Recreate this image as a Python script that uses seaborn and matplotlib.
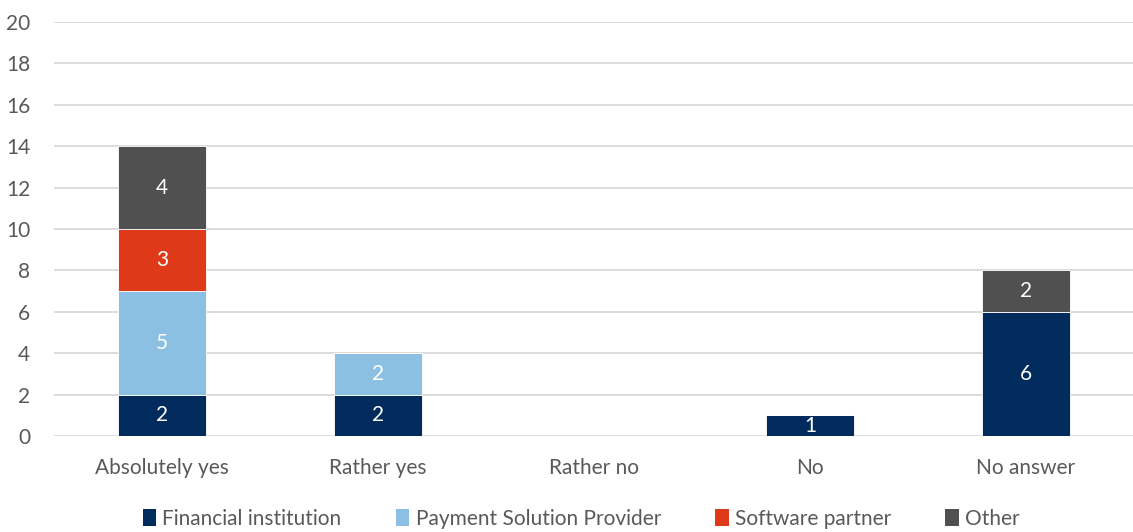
import numpy as np
import pandas as pd
import matplotlib
matplotlib.use("Agg")
import matplotlib.pyplot as plt
import seaborn as sns
from matplotlib.patches import Patch

categories = ["Absolutely yes", "Rather yes", "Rather no", "No", "No answer"]
series_names = ["Financial institution", "Payment Solution Provider", "Software partner", "Other"]
financial = [2, 2, 0, 1, 6]
payment = [5, 2, 0, 0, 0]
software = [3, 0, 0, 0, 0]
other = [4, 0, 0, 0, 2]
colors = ["#002B5C", "#8BC0E3", "#DE3A1A", "#505050"]
y_ticks = [0, 2, 4, 6, 8, 10, 12, 14, 16, 18, 20]

sns.set_theme(style="white")
plt.rcParams['font.family'] = ['Lato', 'DejaVu Sans']

fig = plt.figure(figsize=(11.33, 5.32), dpi=100)
ax = fig.add_axes([54 / 1133, 1 - 436 / 532, 1080 / 1133, 414 / 532])

series_vals = [financial, payment, software, other]
bottom = np.zeros(len(categories))
for name, vals, col in zip(series_names, series_vals, colors):
    df = pd.DataFrame({"cat": categories, "val": vals})
    sns.barplot(data=df, x="cat", y="val", color=col, bottom=bottom, width=0.41,
                ax=ax, errorbar=None, saturation=1, order=categories, zorder=3,
                linewidth=0.6, edgecolor="#FFFFFF")
    for i, v in enumerate(vals):
        if v > 0:
            ax.text(i, bottom[i] + v / 2, str(v), ha="center", va="center",
                    color="white", fontsize=15, zorder=4)
    bottom = bottom + np.array(vals)

ax.set_ylim(0, 20)
ax.set_xlim(-0.5, len(categories) - 0.5)
ax.set_yticks(y_ticks)
ax.set_yticklabels([str(t) for t in y_ticks], fontsize=15, color="#595959")
ax.tick_params(axis="x", labelsize=15, labelcolor="#595959", length=0, pad=16)
ax.tick_params(axis="y", length=0, pad=17)
ax.set_xlabel("")
ax.set_ylabel("")
ax.yaxis.grid(True, color="#D9D9D9", linewidth=1.3, zorder=0)
ax.set_axisbelow(True)
for s in ax.spines.values():
    s.set_visible(False)

handles = [Patch(facecolor=c, edgecolor="none") for c in colors]
fig.legend(handles, series_names, loc="center", bbox_to_anchor=(0.513, 1 - 519 / 532),
           ncol=4, frameon=False, fontsize=15, handlelength=0.65, handleheight=0.85,
           handletextpad=0.3, columnspacing=2.6, labelcolor="#595959")

fig.savefig("out.png", dpi=100)
